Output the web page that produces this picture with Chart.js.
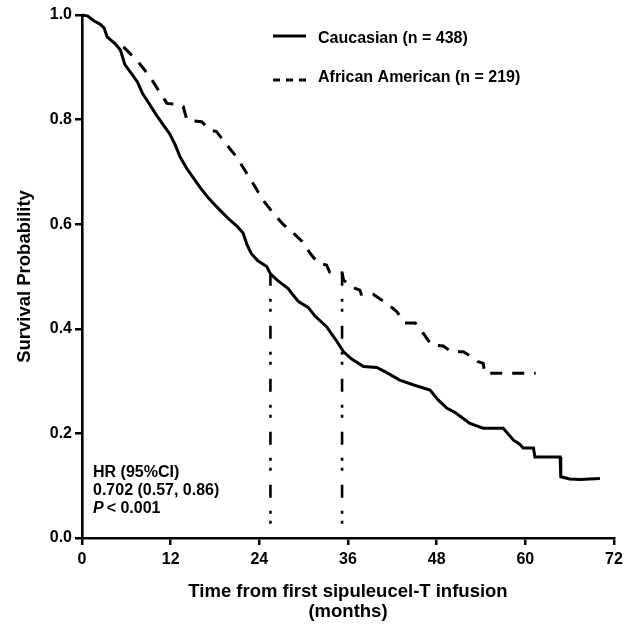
<!DOCTYPE html>
<html>
<head>
<meta charset="utf-8">
<script src="https://cdn.jsdelivr.net/npm/chart.js@4"></script>
<style>
  body { margin: 0; background: #fff; }
  #wrap { width: 632px; height: 624px; }
</style>
</head>
<body>
<div id="wrap"><canvas id="kmChart" width="632" height="624"></canvas></div>
<script>
// Kaplan-Meier curves (months, survival probability)
const cauTime = [0, 0.8, 1.5, 2.5, 3.0, 3.4, 4.5, 5.2, 5.8, 6.6, 7.5, 8.2, 8.8, 10.0, 11.0, 11.9, 12.6, 13.3, 14.2, 15.0,
    16.0, 17.0, 17.7, 18.8, 20.0, 21.0, 21.8, 22.3, 22.9, 23.8, 25.0, 25.5, 26.5, 27.9, 28.6, 29.3, 30.6, 31.5, 33.1, 34.3,
    35.4, 36.5, 38.1, 39.9, 41.0, 43.0, 45.0, 47.1, 48.2, 49.4, 50.5, 52.5, 54.3, 57.0, 58.4, 59.2, 59.7, 61.1, 61.3, 64.7,
    64.8, 66.0, 67.5, 68.7, 70.1];
const cauSurv = [1.0, 0.998, 0.99, 0.982, 0.975, 0.958, 0.945, 0.933, 0.905, 0.89, 0.872, 0.85, 0.837, 0.81, 0.79, 0.772, 0.752, 0.728, 0.706, 0.69,
    0.67, 0.652, 0.641, 0.625, 0.608, 0.596, 0.583, 0.562, 0.544, 0.53, 0.519, 0.505, 0.492, 0.477, 0.464, 0.452, 0.441, 0.425, 0.404, 0.38,
    0.356, 0.342, 0.328, 0.326, 0.318, 0.302, 0.292, 0.283, 0.264, 0.248, 0.24, 0.219, 0.21, 0.21, 0.187, 0.18, 0.172, 0.172, 0.155, 0.155,
    0.117, 0.113, 0.112, 0.113, 0.114];

const aaTime = [5.6, 7.4, 9.2, 10.3, 11.5, 12.4, 13.7, 14.2, 16.2, 17.3, 18.2, 19.4, 20.9, 22.0, 23.4, 24.5, 25.9, 27.2, 28.6, 29.8,
    30.9, 32.0, 33.1, 33.5, 35.2, 35.4, 36.5, 37.6, 37.8, 39.4, 41.2, 42.6, 43.7, 45.1, 46.2, 47.3, 48.9, 50.0, 51.6, 52.7,
    53.6, 54.3, 54.5, 61.4];
const aaSurv = [0.939, 0.914, 0.882, 0.857, 0.831, 0.83, 0.825, 0.799, 0.796, 0.78, 0.777, 0.755, 0.729, 0.704, 0.672, 0.646, 0.621, 0.6, 0.583, 0.567,
    0.544, 0.525, 0.522, 0.509, 0.507, 0.493, 0.48, 0.474, 0.466, 0.466, 0.449, 0.433, 0.411, 0.411, 0.391, 0.369, 0.367, 0.356, 0.356, 0.347,
    0.337, 0.334, 0.315, 0.315];

// median survival drop lines
const medianTime = [25.5, 35.2];
const medianSurv = [0.507, 0.507];

const seriesNames = ["Caucasian (n = 438)", "African American (n = 219)"];
const xTicks = [0, 12, 24, 36, 48, 60, 72];
const yTicks = [0, 0.2, 0.4, 0.6, 0.8, 1.0];
const hrText = ["HR (95%CI)", "0.702 (0.57, 0.86)", "< 0.001"];

const FONT = '"Liberation Sans", Arial, Helvetica, sans-serif';
Chart.defaults.font.family = FONT;
Chart.defaults.color = "#000";

const toPts = (xs, ys) => xs.map((x, i) => ({ x: x, y: ys[i] }));
const curveDashes = [[], [12, 10]];
const legendDashes = [[], [7, 6]];

const datasets = [
    { label: seriesNames[0], data: toPts(cauTime, cauSurv), borderDash: curveDashes[0] },
    { label: seriesNames[1], data: toPts(aaTime, aaSurv), borderDash: curveDashes[1] },
].map(d => Object.assign(d, {
    borderColor: "#000", borderWidth: 3, pointRadius: 0, fill: false, tension: 0, clip: false,
}));

medianTime.forEach((t, i) => {
    datasets.push({
        label: "median" + i,
        data: [{ x: t, y: medianSurv[i] }, { x: t, y: 0 }],
        borderColor: "#000", borderWidth: 2.6, pointRadius: 0,
        borderDash: [13, 13, 3, 7, 3, 14], fill: false,
    });
});

// legend + HR box drawn on top of the plot
const overlay = {
    id: "overlay",
    afterDraw(chart) {
        const c = chart.ctx;
        c.save();
        c.fillStyle = "#000";
        c.strokeStyle = "#000";
        c.textBaseline = "middle";
        c.textAlign = "left";

        const rows = [{ ly: 36, ty: 39 }, { ly: 80, ty: 78 }];
        seriesNames.forEach((name, i) => {
            c.lineWidth = 3;
            c.setLineDash(legendDashes[i]);
            c.beginPath();
            c.moveTo(273, rows[i].ly);
            c.lineTo(306, rows[i].ly);
            c.stroke();
            c.setLineDash([]);
            c.font = "bold 16px " + FONT;
            c.fillText(name, 318, rows[i].ty);
        });

        const x0 = chart.chartArea.left + 11;
        c.font = "bold 16px " + FONT;
        c.fillText(hrText[0], x0, 473);
        c.fillText(hrText[1], x0, 491);
        c.font = "italic bold 16px " + FONT;
        c.fillText("P", x0, 509);
        const pw = c.measureText("P").width;
        c.font = "bold 16px " + FONT;
        c.fillText(hrText[2], x0 + pw + 3, 509);
        c.restore();
    }
};

new Chart(document.getElementById("kmChart"), {
    type: "line",
    data: { datasets: datasets },
    options: {
        responsive: false,
        animation: false,
        layout: { padding: { top: 15, right: 18, left: 0, bottom: 0 } },
        plugins: { legend: { display: false }, tooltip: { enabled: false } },
        scales: {
            x: {
                type: "linear",
                min: 0, max: 72,
                afterBuildTicks: s => { s.ticks = xTicks.map(v => ({ value: v })); },
                afterFit: s => { s.height = 86; },
                grid: { drawOnChartArea: false, drawTicks: true, tickLength: 7, color: "#000", lineWidth: 2.5 },
                border: { display: true, color: "#000", width: 2.6 },
                ticks: { font: { size: 16, weight: "bold" }, padding: 5, maxRotation: 0 },
                title: {
                    display: true,
                    text: ["Time from first sipuleucel-T infusion", "(months)"],
                    font: { size: 18.5, weight: "bold", lineHeight: 1.1 },
                    padding: { top: 0, bottom: 2 },
                },
            },
            y: {
                min: 0, max: 1,
                afterBuildTicks: s => { s.ticks = yTicks.map(v => ({ value: v })); },
                afterFit: s => { s.width = 82; },
                grid: { drawOnChartArea: false, drawTicks: true, tickLength: 7, color: "#000", lineWidth: 2.5 },
                border: { display: true, color: "#000", width: 2.6 },
                ticks: { font: { size: 16, weight: "bold" }, padding: 3, callback: v => v.toFixed(1) },
                title: {
                    display: true,
                    text: "Survival Probability",
                    font: { size: 18.5, weight: "bold" },
                    padding: { top: 14, bottom: 0 },
                },
            },
        },
    },
    plugins: [overlay],
});
</script>
</body>
</html>
